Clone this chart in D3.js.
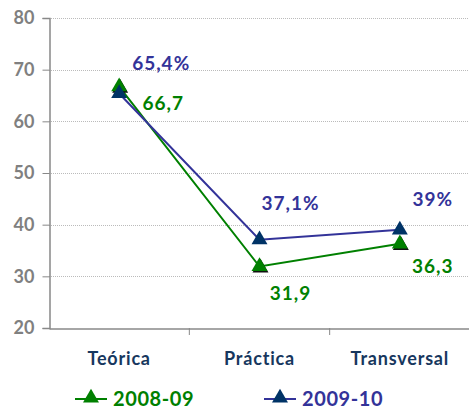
<!DOCTYPE html>
<html>
<head>
<meta charset="utf-8">
<script src="https://cdn.jsdelivr.net/npm/d3@7"></script>
<style>
  body { margin: 0; background: #fff; }
  svg text { font-family: "Lato", "DejaVu Sans", sans-serif; font-weight: bold; }
</style>
</head>
<body>
<div id="chart"></div>
<script>
// data
const categories = ['Teórica', 'Práctica', 'Transversal'];
const series2008 = [66.7, 31.9, 36.3];
const series2009 = [65.4, 37.1, 39];
const labels2008 = ['66,7', '31,9', '36,3'];
const labels2009 = ['65,4%', '37,1%', '39%'];
const yTicks = [20, 30, 40, 50, 60, 70, 80];

const W = 469, H = 410;
const M = {left: 49, top: 18, bottom: 82};

const svg = d3.select('#chart').append('svg').attr('width', W).attr('height', H);

const x = d3.scaleBand().domain(categories).range([M.left, 470]);
const y = d3.scaleLinear().domain([20, 80]).range([H - M.bottom, M.top]);

// grid
svg.append('g').selectAll('line')
  .data(yTicks.filter(d => d > 20))
  .enter().append('line')
  .attr('x1', M.left).attr('x2', W)
  .attr('y1', d => Math.round(y(d)) + 0.5).attr('y2', d => Math.round(y(d)) + 0.5)
  .attr('stroke', '#bbb').attr('stroke-dasharray', '1,1');

// y axis
const yAxis = svg.append('g')
  .attr('transform', 'translate(' + (M.left + 0.5) + ',0)')
  .call(d3.axisLeft(y).tickValues(yTicks).tickSize(7).tickPadding(8));
yAxis.select('.domain').attr('stroke', '#888').attr('stroke-width', 1.5);
yAxis.selectAll('.tick line').attr('stroke', '#888');
yAxis.selectAll('.tick text').attr('fill', '#808080').attr('font-size', 18);

// x axis
const xAxis = svg.append('g')
  .attr('transform', 'translate(0,' + (y(20) + 0.5) + ')')
  .call(d3.axisBottom(x).tickSize(0).tickPadding(24));
xAxis.select('.domain').attr('stroke', '#888').attr('stroke-width', 1.5);
xAxis.selectAll('.tick text').attr('fill', '#17375e').attr('font-size', 18)
  .attr('letter-spacing', 0.8);
// category separators
svg.append('g').selectAll('line')
  .data(categories.slice(1))
  .enter().append('line')
  .attr('x1', d => x(d)).attr('x2', d => x(d))
  .attr('y1', y(20)).attr('y2', y(20) + 7)
  .attr('stroke', '#888');

const cx = d => x(d) + x.bandwidth() / 2;
const line = d3.line().x(d => cx(d[0])).y(d => y(d[1]));
const tri = d3.symbol().type(d3.symbolTriangle).size(110);

function drawSeries(vals, lineColor, markColor, shadow) {
  const pts = categories.map((c, i) => [c, vals[i]]);
  svg.append('path').datum(pts)
    .attr('d', line).attr('fill', 'none')
    .attr('stroke', lineColor).attr('stroke-width', 2);
  if (shadow) {
    svg.append('g').selectAll('path').data(pts).enter().append('path')
      .attr('d', tri)
      .attr('transform', d => 'translate(' + (cx(d[0]) + 1) + ',' + (y(d[1]) + 1.5) + ')')
      .attr('fill', '#111');
  }
  svg.append('g').selectAll('path').data(pts).enter().append('path')
    .attr('d', tri)
    .attr('transform', d => 'translate(' + cx(d[0]) + ',' + y(d[1]) + ')')
    .attr('fill', markColor);
}

drawSeries(series2008, '#008000', '#008000', true);
drawSeries(series2009, '#333399', '#003366', false);

// data labels
const off2008 = [[44, 23], [31, 33], [33, 29]];
const off2009 = [[42, -23], [31, -30], [33, -24]];
svg.append('g').selectAll('text').data(series2008).enter().append('text')
  .attr('x', (d, i) => cx(categories[i]) + off2008[i][0])
  .attr('y', (d, i) => y(d) + off2008[i][1])
  .attr('text-anchor', 'middle').attr('fill', '#008000').attr('font-size', 19)
  .attr('letter-spacing', 1)
  .text((d, i) => labels2008[i]);
svg.append('g').selectAll('text').data(series2009).enter().append('text')
  .attr('x', (d, i) => cx(categories[i]) + off2009[i][0])
  .attr('y', (d, i) => y(d) + off2009[i][1])
  .attr('text-anchor', 'middle').attr('fill', '#333399').attr('font-size', 19)
  .attr('letter-spacing', 1)
  .text((d, i) => labels2009[i]);

// legend
const legend = [
  {name: '2008-09', line: '#008000', mark: '#008000', x: 75},
  {name: '2009-10', line: '#333399', mark: '#003366', x: 264}
];
const lg = svg.append('g').selectAll('g').data(legend).enter().append('g')
  .attr('transform', d => 'translate(' + d.x + ',399)');
lg.append('line').attr('x1', 0).attr('x2', 32).attr('y1', 0).attr('y2', 0)
  .attr('stroke', d => d.line).attr('stroke-width', 2);
lg.append('path').attr('d', tri).attr('transform', 'translate(16,-1)')
  .attr('fill', d => d.mark);
lg.append('text').attr('x', 38).attr('y', 7).attr('font-size', 20)
  .attr('letter-spacing', 0.6)
  .attr('fill', d => d.line).text(d => d.name);
</script>
</body>
</html>
